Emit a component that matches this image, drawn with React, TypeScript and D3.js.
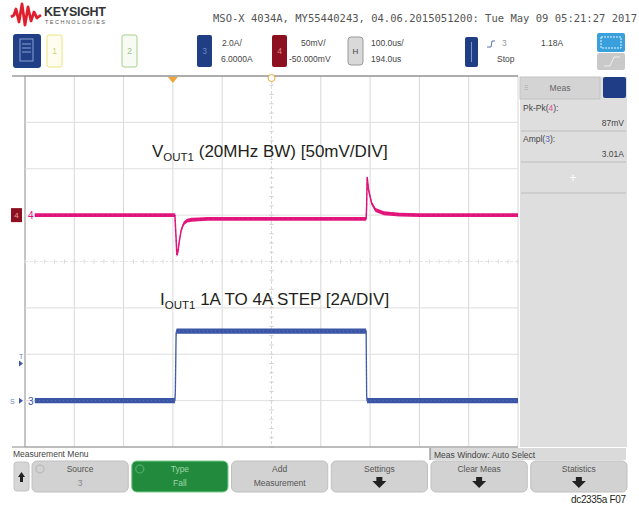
import React, { useEffect, useRef } from 'react';
import * as d3 from 'd3';

// scope traces (time in us, 100us/div)
const vTime = [20, 304, 306, 308, 310, 313, 317, 322, 329, 338, 352, 370, 692, 693, 694, 697, 703, 711, 728, 760, 800, 1000];
const vOut = [0, 0, -20, -43, -40, -28, -16, -9, -6, -5, -4.5, -4, -4, 10, 41, 27, 13, 5.5, 2, 0.5, 0, 0]; // mV, ch4

const iTime = [20, 304, 305, 306.5, 307.5, 692, 693, 694, 1000];
const iOut = [0, 0, 0.4, 2.9, 3.0, 3.0, 0.2, 0, 0]; // A, ch3

const timeTicks = d3.range(0, 1001, 100);
const voltTicks = d3.range(-250, 151, 50);

const softkeys = [
  { top: 'Source', bottom: '3', green: false, arrow: false },
  { top: 'Type', bottom: 'Fall', green: true, arrow: false },
  { top: 'Add', bottom: 'Measurement', green: false, arrow: false },
  { top: 'Settings', bottom: '', green: false, arrow: true },
  { top: 'Clear Meas', bottom: '', green: false, arrow: true },
  { top: 'Statistics', bottom: '', green: false, arrow: true },
];

const measRows = [
  { name: 'Pk-Pk(', ch: '4', color: '#e0508f', value: '87mV' },
  { name: 'Ampl(', ch: '3', color: '#5566bb', value: '3.01A' },
];

const PINK = '#e3177f';
const BLUE = '#3b56a6';
const UI = 'Liberation Sans, Arial, sans-serif';

export default function App() {
  const svgRef = useRef<SVGSVGElement | null>(null);

  useEffect(() => {
    if (!svgRef.current) return;
    const svg = d3.select(svgRef.current);
    svg.selectAll('*').remove();

    const left = 25, right = 518, top = 76, bottom = 447;
    const x = d3.scaleLinear().domain([0, 1000]).range([left, right]);
    const yV = d3.scaleLinear().domain([-250, 150]).range([bottom, top]); // 50mV/div, offset -50mV
    const yI = d3.scaleLinear().domain([-2, 14]).range([bottom, top]); // 2A/div, offset 6A

    svg.append('rect').attr('width', 639).attr('height', 508).attr('fill', '#fff');

    // ---- header
    const logo = svg.append('g');
    logo.append('path')
      .attr('d', 'M11,17 L14,15 L16,9 L19,22 L22,4 L25,25 L28,7 L31,21 L34,12 L37,18 L41,15')
      .attr('fill', 'none').attr('stroke', '#e01f2d').attr('stroke-width', 2.8).attr('stroke-linejoin', 'round');
    logo.append('text').attr('x', 44).attr('y', 16).attr('font-family', UI).attr('font-weight', 'bold')
      .attr('font-size', 12.5).attr('fill', '#333').attr('textLength', 62).text('KEYSIGHT');
    logo.append('text').attr('x', 45).attr('y', 23.5).attr('font-family', UI)
      .attr('font-size', 5.5).attr('fill', '#555').attr('textLength', 60).text('TECHNOLOGIES');

    svg.append('text').attr('x', 213).attr('y', 22).attr('font-family', 'DejaVu Sans Mono, monospace')
      .attr('font-size', 10.5).attr('fill', '#555').attr('textLength', 424).attr('lengthAdjust', 'spacingAndGlyphs')
      .text('MSO-X 4034A, MY55440243, 04.06.2015051200: Tue May 09 05:21:27 2017');

    const hdr = svg.append('g').attr('font-family', UI).attr('font-size', 8.5).attr('fill', '#444');
    // file/menu button
    hdr.append('rect').attr('x', 13).attr('y', 34).attr('width', 28).attr('height', 34).attr('rx', 3).attr('fill', '#213f86');
    hdr.append('rect').attr('x', 20).attr('y', 39).attr('width', 13).attr('height', 22).attr('fill', 'none').attr('stroke', '#8aa0d0').attr('stroke-width', 1);
    [44, 48, 52].forEach((yy) => hdr.append('line').attr('x1', 22).attr('x2', 31).attr('y1', yy).attr('y2', yy).attr('stroke', '#8aa0d0'));
    // channel 1, 2
    hdr.append('rect').attr('x', 47).attr('y', 35).attr('width', 15).attr('height', 32).attr('rx', 2).attr('fill', '#fffdf0').attr('stroke', '#ece37a');
    hdr.append('text').attr('x', 54.5).attr('y', 54).attr('text-anchor', 'middle').attr('fill', '#d8cf70').text('1');
    hdr.append('rect').attr('x', 122).attr('y', 35).attr('width', 15).attr('height', 32).attr('rx', 2).attr('fill', '#f7fbf3').attr('stroke', '#a8d08c');
    hdr.append('text').attr('x', 129.5).attr('y', 54).attr('text-anchor', 'middle').attr('fill', '#9cc484').text('2');
    // channel 3
    hdr.append('rect').attr('x', 197).attr('y', 35).attr('width', 15).attr('height', 32).attr('rx', 2).attr('fill', '#203e84');
    hdr.append('text').attr('x', 204.5).attr('y', 54).attr('text-anchor', 'middle').attr('fill', '#6d86c4').text('3');
    hdr.append('text').attr('x', 222).attr('y', 46).text('2.0A/');
    hdr.append('text').attr('x', 221).attr('y', 62).text('6.0000A');
    // channel 4
    hdr.append('rect').attr('x', 272).attr('y', 35).attr('width', 15).attr('height', 32).attr('rx', 2).attr('fill', '#8c1020');
    hdr.append('text').attr('x', 279.5).attr('y', 54).attr('text-anchor', 'middle').attr('fill', '#d88').text('4');
    hdr.append('text').attr('x', 301).attr('y', 46).text('50mV/');
    hdr.append('text').attr('x', 289).attr('y', 62).text('-50.000mV');
    // horizontal
    hdr.append('rect').attr('x', 348).attr('y', 37).attr('width', 15).attr('height', 28).attr('rx', 3).attr('fill', '#d9d9d9').attr('stroke', '#999');
    hdr.append('text').attr('x', 355.5).attr('y', 54).attr('text-anchor', 'middle').attr('font-size', 8).text('H');
    hdr.append('text').attr('x', 371).attr('y', 46).text('100.0us/');
    hdr.append('text').attr('x', 371).attr('y', 62).text('194.0us');
    // trigger
    hdr.append('rect').attr('x', 465).attr('y', 37).attr('width', 13).attr('height', 30).attr('rx', 2).attr('fill', '#203e84');
    hdr.append('line').attr('x1', 471.5).attr('x2', 471.5).attr('y1', 42).attr('y2', 62).attr('stroke', '#7d93cc');
    hdr.append('path').attr('d', 'M487,47 L491,47 L492,41 L495,41').attr('fill', 'none').attr('stroke', '#5670b8');
    hdr.append('text').attr('x', 502).attr('y', 46).attr('fill', '#999').text('3');
    hdr.append('text').attr('x', 541).attr('y', 46).text('1.18A');
    hdr.append('text').attr('x', 497).attr('y', 62).text('Stop');
    // run/stop icons
    hdr.append('rect').attr('x', 597).attr('y', 33).attr('width', 28).attr('height', 19).attr('rx', 2).attr('fill', '#3aa0dc');
    hdr.append('rect').attr('x', 601).attr('y', 37).attr('width', 20).attr('height', 11).attr('fill', 'none').attr('stroke', '#e8f4ff').attr('stroke-dasharray', '2,1');
    hdr.append('rect').attr('x', 597).attr('y', 53).attr('width', 28).attr('height', 17).attr('rx', 2).attr('fill', '#c9c9c9');
    hdr.append('path').attr('d', 'M604,66 L610,66 L614,57 L620,57').attr('fill', 'none').attr('stroke', '#eee');

    // ---- graticule
    const grid = svg.append('g');
    grid.selectAll('line.v').data(timeTicks).join('line')
      .attr('x1', (d) => x(d)).attr('x2', (d) => x(d)).attr('y1', top).attr('y2', bottom)
      .attr('stroke', (d) => (d === 0 ? '#8a8a8a' : '#d8d8d8')).attr('stroke-width', 1)
      .attr('stroke-dasharray', (d) => (d === 500 ? '3,2' : null));
    grid.selectAll('line.h').data(voltTicks).join('line')
      .attr('x1', left).attr('x2', right).attr('y1', (d) => yV(d)).attr('y2', (d) => yV(d))
      .attr('stroke', (d) => (d === -50 ? '#e6e6e6' : '#dedede')).attr('stroke-width', 1)
      .attr('stroke-dasharray', (d) => (d === -50 ? '3,2' : null));
    // minor ticks on centre lines
    grid.selectAll('line.mt').data(d3.range(0, 1001, 20)).join('line')
      .attr('x1', (d) => x(d)).attr('x2', (d) => x(d)).attr('y1', yV(-50) - 2).attr('y2', yV(-50) + 2).attr('stroke', '#d8d8d8');
    grid.selectAll('line.mv').data(d3.range(-250, 151, 10)).join('line')
      .attr('x1', x(500) - 2).attr('x2', x(500) + 2).attr('y1', (d) => yV(d)).attr('y2', (d) => yV(d)).attr('stroke', '#d0d0d0');
    grid.append('line').attr('x1', 12).attr('x2', right).attr('y1', top).attr('y2', top).attr('stroke', '#6d6d6d').attr('stroke-width', 1.2);
    grid.append('line').attr('x1', 12).attr('x2', right).attr('y1', bottom).attr('y2', bottom).attr('stroke', '#8a8a8a');

    // trigger markers
    svg.append('path').attr('d', `M${x(300) - 5},${top + 1} L${x(300) + 5},${top + 1} L${x(300)},${top + 7} Z`).attr('fill', '#f0a43a');
    svg.append('circle').attr('cx', x(500)).attr('cy', top + 2).attr('r', 3.5).attr('fill', '#fff').attr('stroke', '#f0a43a');

    // ---- traces: noise band (area) + thin centre line, so steep edges stay thin
    const bandI = d3.area<number>().x((_, i) => x(iTime[i])).y0((d) => yI(d) - 2.6).y1((d) => yI(d) + 2.6);
    const lineI = d3.line<number>().x((_, i) => x(iTime[i])).y((d) => yI(d));
    const bandV = d3.area<number>().x((_, i) => x(vTime[i])).y0((d) => yV(d) - 1.9).y1((d) => yV(d) + 1.9);
    const lineV = d3.line<number>().x((_, i) => x(vTime[i])).y((d) => yV(d));

    svg.append('path').attr('d', bandI(iOut)).attr('fill', BLUE);
    svg.append('path').attr('d', lineI(iOut)).attr('fill', 'none').attr('stroke', BLUE).attr('stroke-width', 1.3);
    svg.append('path').attr('d', lineI(iOut)).attr('fill', 'none').attr('stroke', '#7f95cf').attr('stroke-width', 0.8)
      .attr('stroke-dasharray', '1,3').attr('opacity', 0.6);
    svg.append('path').attr('d', bandV(vOut)).attr('fill', PINK);
    svg.append('path').attr('d', lineV(vOut)).attr('fill', 'none').attr('stroke', PINK).attr('stroke-width', 1.5);
    svg.append('path').attr('d', lineV(vOut)).attr('fill', 'none').attr('stroke', '#b80d60').attr('stroke-width', 0.8)
      .attr('stroke-dasharray', '1,4');

    // channel markers
    svg.append('rect').attr('x', 11).attr('y', yV(0) - 7).attr('width', 11).attr('height', 14).attr('fill', '#8c1020');
    svg.append('text').attr('x', 16.5).attr('y', yV(0) + 3).attr('text-anchor', 'middle').attr('font-family', UI)
      .attr('font-size', 8).attr('fill', '#e6a0a0').text('4');
    svg.append('text').attr('x', 28).attr('y', yV(0) + 4).attr('font-family', UI).attr('font-size', 10).attr('fill', PINK).text('4');
    svg.append('path').attr('d', `M19,${yI(0) - 3} L23,${yI(0)} L19,${yI(0) + 3} Z`).attr('fill', BLUE);
    svg.append('text').attr('x', 28).attr('y', yI(0) + 4).attr('font-family', UI).attr('font-size', 10).attr('fill', BLUE).text('3');
    svg.append('text').attr('x', 10).attr('y', yI(0) + 3).attr('font-family', UI).attr('font-size', 7).attr('fill', '#6d84c0').text('S');
    svg.append('path').attr('d', `M19,${yI(1.6) - 3} L23,${yI(1.6)} L19,${yI(1.6) + 3} Z`).attr('fill', BLUE);
    svg.append('text').attr('x', 19).attr('y', yI(1.6) - 5).attr('font-family', UI).attr('font-size', 7).attr('fill', '#6d84c0').text('T');

    // annotations
    const ann = svg.append('g').attr('font-family', UI).attr('font-size', 17).attr('fill', '#231f20');
    const t1 = ann.append('text').attr('x', 152).attr('y', 157);
    t1.append('tspan').text('V');
    t1.append('tspan').attr('font-size', 11.5).attr('dy', 4).text('OUT1');
    t1.append('tspan').attr('dy', -4).text(' (20MHz BW) [50mV/DIV]');
    const t2 = ann.append('text').attr('x', 160).attr('y', 305);
    t2.append('tspan').text('I');
    t2.append('tspan').attr('font-size', 11.5).attr('dy', 4).text('OUT1');
    t2.append('tspan').attr('dy', -4).text(' 1A TO 4A STEP [2A/DIV]');

    // ---- measurement side panel
    const meas = svg.append('g').attr('font-family', UI).attr('font-size', 8.5).attr('fill', '#444');
    meas.append('rect').attr('x', 520).attr('y', 77).attr('width', 107).attr('height', 370).attr('fill', '#dedede');
    meas.append('rect').attr('x', 520).attr('y', 77).attr('width', 80).attr('height', 22).attr('fill', '#d4d4d4').attr('stroke', '#c4c4c4');
    meas.append('text').attr('x', 560).attr('y', 91).attr('text-anchor', 'middle').attr('fill', '#666').text('Meas');
    meas.append('text').attr('x', 524).attr('y', 90).attr('font-size', 6).attr('fill', '#999').text('⠿');
    meas.append('rect').attr('x', 603).attr('y', 77).attr('width', 23).attr('height', 21).attr('rx', 2).attr('fill', '#1f3d86');
    measRows.forEach((r, i) => {
      const y0 = 101 + i * 31;
      const t = meas.append('text').attr('x', 523).attr('y', y0 + 10);
      t.append('tspan').text(r.name);
      t.append('tspan').attr('fill', r.color).text(r.ch);
      t.append('tspan').text('):');
      meas.append('text').attr('x', 624).attr('y', y0 + 25).attr('text-anchor', 'end').text(r.value);
      meas.append('line').attr('x1', 521).attr('x2', 626).attr('y1', y0 + 30).attr('y2', y0 + 30).attr('stroke', '#bdbdbd');
    });
    meas.append('text').attr('x', 573).attr('y', 182).attr('text-anchor', 'middle').attr('font-size', 12).attr('fill', '#fff').text('+');
    meas.append('line').attr('x1', 521).attr('x2', 626).attr('y1', 193).attr('y2', 193).attr('stroke', '#bdbdbd');

    // ---- bottom menu
    const menu = svg.append('g').attr('font-family', UI).attr('font-size', 8.5).attr('fill', '#444');
    menu.append('text').attr('x', 13).attr('y', 457).text('Measurement Menu');
    menu.append('rect').attr('x', 430).attr('y', 448).attr('width', 196).attr('height', 12).attr('fill', '#dadada');
    menu.append('line').attr('x1', 430).attr('x2', 430).attr('y1', 448).attr('y2', 460).attr('stroke', '#777');
    menu.append('text').attr('x', 434).attr('y', 457.5).text('Meas Window: Auto Select');

    menu.append('rect').attr('x', 14).attr('y', 462).attr('width', 15).attr('height', 29).attr('rx', 3).attr('fill', '#d6d6d6').attr('stroke', '#c2c2c2');
    menu.append('path').attr('d', 'M21.5,472 L25,477 L23,477 L23,482 L20,482 L20,477 L18,477 Z').attr('fill', '#222');

    const keyX = d3.scaleBand<number>().domain(d3.range(softkeys.length)).range([32, 627]).paddingInner(0.035);
    const keys = menu.selectAll('g.key').data(softkeys).join('g')
      .attr('transform', (_, i) => `translate(${keyX(i)},461)`);
    keys.append('rect').attr('width', keyX.bandwidth()).attr('height', 31).attr('rx', 5)
      .attr('fill', (d) => (d.green ? '#218a3c' : '#d2d2d2')).attr('stroke', (d) => (d.green ? '#7ad08c' : '#c0c0c0'));
    keys.append('text').attr('x', keyX.bandwidth() / 2).attr('y', 11).attr('text-anchor', 'middle')
      .attr('fill', (d) => (d.green ? '#9fd6a8' : '#555')).text((d) => d.top);
    keys.append('text').attr('x', keyX.bandwidth() / 2).attr('y', 25).attr('text-anchor', 'middle')
      .attr('fill', (d) => (d.green ? '#9fd6a8' : d.top === 'Source' ? '#888' : '#555')).text((d) => d.bottom);
    keys.filter((d) => d.arrow).append('path')
      .attr('d', () => { const c = keyX.bandwidth() / 2; return `M${c - 3},16 L${c + 3},16 L${c + 3},20 L${c + 7},20 L${c},27 L${c - 7},20 L${c - 3},20 Z`; })
      .attr('fill', '#222');
    keys.filter((d) => d.top === 'Source' || d.green).append('circle').attr('cx', 8).attr('cy', 8).attr('r', 4)
      .attr('fill', 'none').attr('stroke', (d) => (d.green ? '#4aa860' : '#bdbdbd')).attr('stroke-width', 1.5);

    svg.append('text').attr('x', 626).attr('y', 503).attr('text-anchor', 'end').attr('font-family', UI)
      .attr('font-size', 10).attr('fill', '#231f20').attr('textLength', 55).text('dc2335a F07');
  }, []);

  return <svg ref={svgRef} width={639} height={508} style={{ position: 'absolute', left: 0, top: 0 }} />;
}
